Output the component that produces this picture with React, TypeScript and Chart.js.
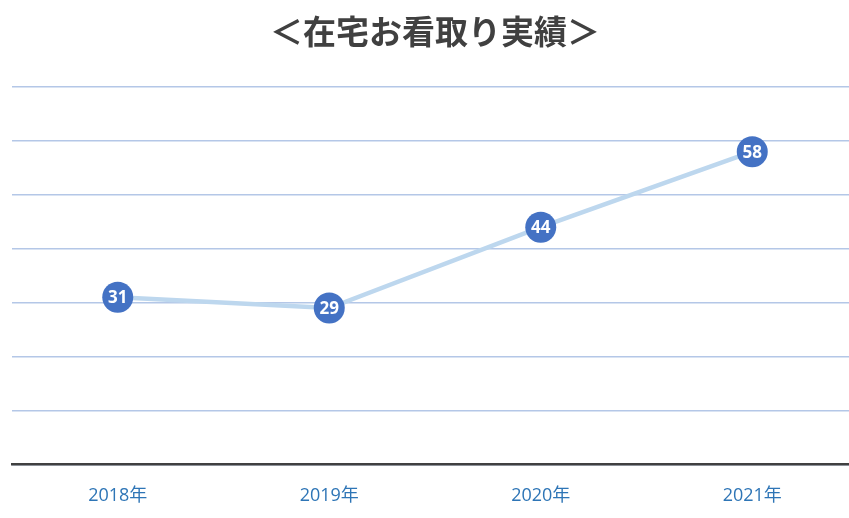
import React, { useEffect, useRef } from "react";
import { Chart, registerables } from "chart.js";

Chart.register(...registerables);

const titleText = "＜在宅お看取り実績＞";
const categories = ["2018年", "2019年", "2020年", "2021年"];
const values = [31, 29, 44, 58];
const yMin = 0;
const yMax = 70;
const yStep = 10;

const pointLabels = {
  id: "pointLabels",
  afterDatasetsDraw(chart: any) {
    const ctx = chart.ctx;
    const meta = chart.getDatasetMeta(0);
    const ds = chart.data.datasets[0];
    ctx.save();
    ctx.fillStyle = "#ffffff";
    ctx.font = "bold 17px 'Open Sans', 'Noto Sans', sans-serif";
    ctx.textAlign = "center";
    ctx.textBaseline = "middle";
    meta.data.forEach((pt: any, i: number) => {
      ctx.fillText(String(ds.data[i]), pt.x, pt.y + 1);
    });
    ctx.restore();
  },
};

export default function App() {
  const ref = useRef<HTMLCanvasElement | null>(null);
  useEffect(() => {
    if (!ref.current) return;
    const chart = new Chart(ref.current, {
      type: "line",
      data: {
        labels: categories,
        datasets: [
          {
            data: values,
            borderColor: "#BDD7EE",
            borderWidth: 4.5,
            pointRadius: 15.5,
            pointHoverRadius: 15.5,
            pointBackgroundColor: "#4472C4",
            pointBorderColor: "#4472C4",
            pointBorderWidth: 0,
            tension: 0,
            fill: false,
            clip: false as any,
          },
        ],
      },
      options: {
        animation: false,
        responsive: false,
        maintainAspectRatio: false,
        layout: { autoPadding: false, padding: { left: 12, right: 12, top: 0, bottom: 0 } },
        plugins: {
          legend: { display: false },
          tooltip: { enabled: false },
          title: {
            display: true,
            text: titleText,
            color: "#404040",
            font: { family: "'Noto Sans CJK JP', sans-serif", size: 33, weight: "bold" },
            padding: { top: 12, bottom: 35.4 },
          },
        },
        scales: {
          x: {
            offset: true,
            grid: { display: false, drawTicks: false },
            border: { display: true, color: "#404040", width: 2.5 },
            ticks: {
              color: "#2E75B6",
              padding: 21,
              font: { family: "'Open Sans', 'Noto Sans CJK JP', sans-serif", size: 18 },
            },
          },
          y: {
            min: yMin,
            max: yMax,
            ticks: { display: false, stepSize: yStep },
            grid: { color: "#B4C7E7", lineWidth: 1.5, drawTicks: false },
            border: { display: false },
            afterFit: (scale: any) => {
              scale.width = 0;
            },
          },
        },
      },
      plugins: [pointLabels],
    });
    return () => chart.destroy();
  }, []);
  return (
    <div style={{ position: "absolute", left: 0, top: 0, width: 849, height: 518, overflow: "hidden", background: "#fff" }}>
      <canvas ref={ref} width={870} height={528} style={{ display: "block", width: 870, height: 528 }} />
    </div>
  );
}
